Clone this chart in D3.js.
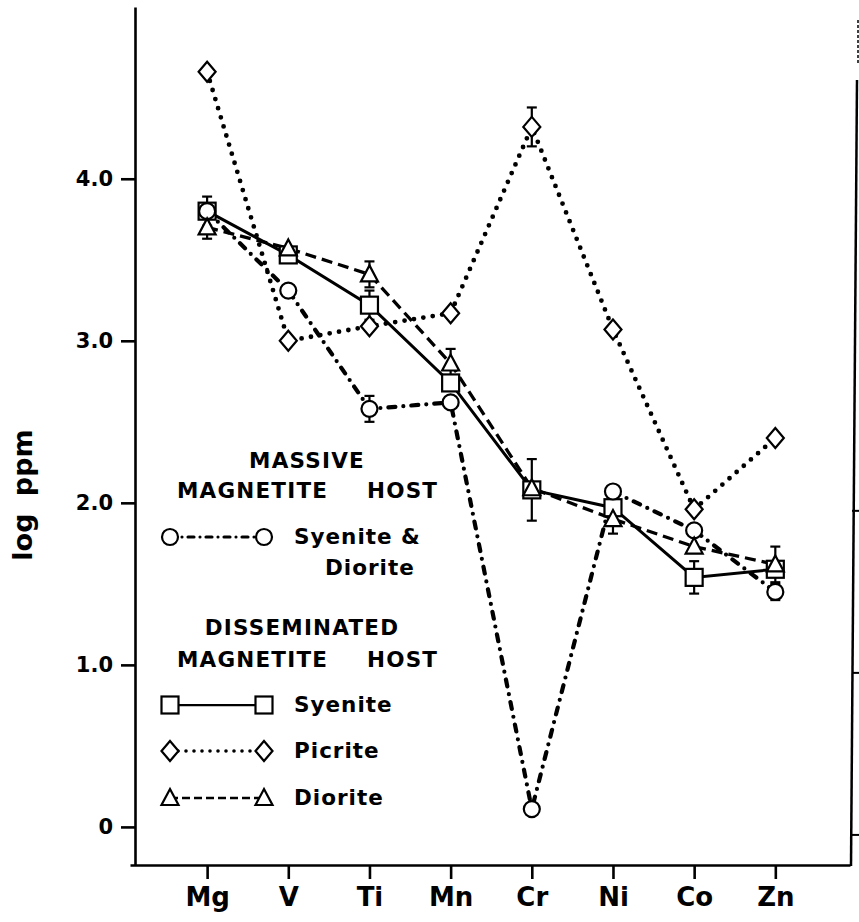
<!DOCTYPE html>
<html><head><meta charset="utf-8">
<script src="https://cdn.jsdelivr.net/npm/d3@7"></script>
<style>
body{margin:0;background:#fff}
text{font-family:"DejaVu Sans","Liberation Sans",Arial,sans-serif;font-weight:bold;fill:#000}
</style>
</head><body>
<svg id="c" width="859" height="922"></svg>
<script>
// ---- data ----
const elements = ["Mg","V","Ti","Mn","Cr","Ni","Co","Zn"];
const massiveSyeniteDiorite = [3.80,3.31,2.58,2.62,0.11,2.07,1.83,1.45];
const dissSyenite = [3.80,3.53,3.22,2.74,2.08,1.97,1.54,1.59];
const dissPicrite = [4.66,3.00,3.09,3.17,4.32,3.07,1.96,2.40];
const dissDiorite = [3.70,3.57,3.41,2.86,2.09,1.90,1.73,1.62];
const massiveErr = [null,null,0.08,null,null,null,null,0.05];
const syeniteErr = [0.09,null,0.09,null,0.19,0.09,0.10,null];
const picriteErr = [null,null,null,null,0.12,null,null,null];
const dioriteErr = [0.07,null,0.08,0.09,null,0.09,null,0.11];
const yTicks = [0,1,2,3,4];
const yTickLabels = ["0","1.0","2.0","3.0","4.0"];
const yTitle = "log ppm";

const svg = d3.select("#c");
svg.append("rect").attr("width",859).attr("height",922).attr("fill","#fff");

const x = d3.scaleLinear().domain([-0.95, 7.92]).range([130, 850]);
const y = d3.scaleLinear().domain([-0.235, 5.06]).range([865, 7]);

// axes
const yAxis = svg.append("g").attr("transform","translate(135,0)")
  .call(d3.axisLeft(y).tickValues(yTicks).tickFormat((d,i)=>yTickLabels[i])
    .tickSize(14).tickSizeOuter(0).tickPadding(8));
yAxis.selectAll("path,line").attr("stroke","#000").attr("stroke-width",2.6);
yAxis.selectAll("text").attr("font-size",21).attr("font-family","DejaVu Sans").attr("font-weight","bold");

const xAxis = svg.append("g").attr("transform","translate(0,865)")
  .call(d3.axisBottom(x).tickValues(d3.range(elements.length)).tickFormat(i=>elements[i])
    .tickSize(14).tickSizeOuter(0).tickPadding(9));
xAxis.selectAll("path,line").attr("stroke","#000").attr("stroke-width",2.6);
xAxis.selectAll("text").attr("font-size",26).attr("font-family","DejaVu Sans").attr("font-weight","bold");

svg.append("text").attr("transform","translate(32,495) rotate(-90)")
  .attr("text-anchor","middle").attr("font-size",27).attr("word-spacing",8).text(yTitle);

// right-hand scan edge
svg.append("line").attr("x1",858).attr("y1",20).attr("x2",858).attr("y2",65)
  .attr("stroke","#000").attr("stroke-width",1.5).attr("stroke-dasharray","3 2");
svg.append("line").attr("x1",857).attr("y1",80).attr("x2",851).attr("y2",866)
  .attr("stroke","#000").attr("stroke-width",2.5);
[0,1,2].forEach(v=>{
  svg.append("line").attr("x1",852).attr("x2",859).attr("y1",y(v)+8).attr("y2",y(v)+8)
    .attr("stroke","#000").attr("stroke-width",2);
});

// series definitions
const series = [
  {vals:dissSyenite, err:syeniteErr, sym:"square", dash:null, w:3, cap:"butt"},
  {vals:dissPicrite, err:picriteErr, sym:"diamond", dash:"0 9.5", w:4.8, cap:"round"},
  {vals:massiveSyeniteDiorite, err:massiveErr, sym:"circle", dash:"7 8 0 8", w:4.2, cap:"round"},
  {vals:dissDiorite, err:dioriteErr, sym:"triangle", dash:"11 6", w:3.3, cap:"butt"}
];

const line = d3.line().x((d,i)=>x(i)).y(d=>y(d));

function drawSymbol(g, kind, cx, cy){
  const st = s=>s.attr("fill","#fff").attr("stroke","#000").attr("stroke-width",2.2);
  if(kind==="circle") st(g.append("circle").attr("cx",cx).attr("cy",cy).attr("r",8));
  else if(kind==="square") st(g.append("rect").attr("x",cx-8.5).attr("y",cy-8.5).attr("width",17).attr("height",17));
  else if(kind==="diamond") st(g.append("path").attr("d",`M${cx},${cy-10}L${cx+8.5},${cy}L${cx},${cy+10}L${cx-8.5},${cy}Z`));
  else if(kind==="triangle") st(g.append("path").attr("d",`M${cx},${cy-9}L${cx+8.5},${cy+7}L${cx-8.5},${cy+7}Z`));
}

// lines
series.forEach(s=>{
  const p = svg.append("path").attr("d",line(s.vals)).attr("fill","none")
    .attr("stroke","#000").attr("stroke-width",s.w).attr("stroke-linecap",s.cap);
  if(s.dash) p.attr("stroke-dasharray",s.dash);
});
// error bars
series.forEach(s=>{
  s.err.forEach((e,i)=>{
    if(e==null) return;
    const cx = x(i), y1 = y(s.vals[i]+e), y2 = y(s.vals[i]-e);
    const g = svg.append("g").attr("stroke","#000").attr("stroke-width",2.2);
    g.append("line").attr("x1",cx).attr("x2",cx).attr("y1",y1).attr("y2",y2);
    g.append("line").attr("x1",cx-5).attr("x2",cx+5).attr("y1",y1).attr("y2",y1);
    g.append("line").attr("x1",cx-5).attr("x2",cx+5).attr("y1",y2).attr("y2",y2);
  });
});
// symbols
series.forEach(s=>{
  const g = svg.append("g");
  s.vals.forEach((v,i)=>drawSymbol(g, s.sym, x(i), y(v)));
});

// legend
const lg = svg.append("g");
function hdr(txt, xx, yy, anchor){
  lg.append("text").attr("x",xx).attr("y",yy).attr("font-size",21.5)
    .attr("letter-spacing",1.2).attr("text-anchor",anchor||"start").text(txt);
}
hdr("MASSIVE",307,468,"middle");
hdr("MAGNETITE",177,498); hdr("HOST",367,498);
hdr("DISSEMINATED",302,635,"middle");
hdr("MAGNETITE",177,667); hdr("HOST",367,667);

const legendRows = [
  {s:series[2], cy:537, label:["Syenite &","Diorite"]},
  {s:series[0], cy:705, label:["Syenite"]},
  {s:series[1], cy:751, label:["Picrite"]},
  {s:series[3], cy:798, label:["Diorite"]}
];
legendRows.forEach(r=>{
  const p = lg.append("path").attr("d",`M170,${r.cy}H264`).attr("stroke","#000")
    .attr("stroke-width",r.s.w*0.75).attr("stroke-linecap",r.s.cap).attr("fill","none");
  if(r.s.dash) p.attr("stroke-dasharray",r.s.sym==="diamond"?"0 8":(r.s.sym==="circle"?"6 6 0 6":"8 4"));
  drawSymbol(lg, r.s.sym, 170, r.cy);
  drawSymbol(lg, r.s.sym, 264, r.cy);
  lg.append("text").attr("x",294).attr("y",r.cy+7).attr("font-size",21.5).attr("letter-spacing",1).text(r.label[0]);
  if(r.label[1]) lg.append("text").attr("x",325).attr("y",r.cy+38).attr("font-size",21.5).attr("letter-spacing",1).text(r.label[1]);
});
</script>
</body></html>
